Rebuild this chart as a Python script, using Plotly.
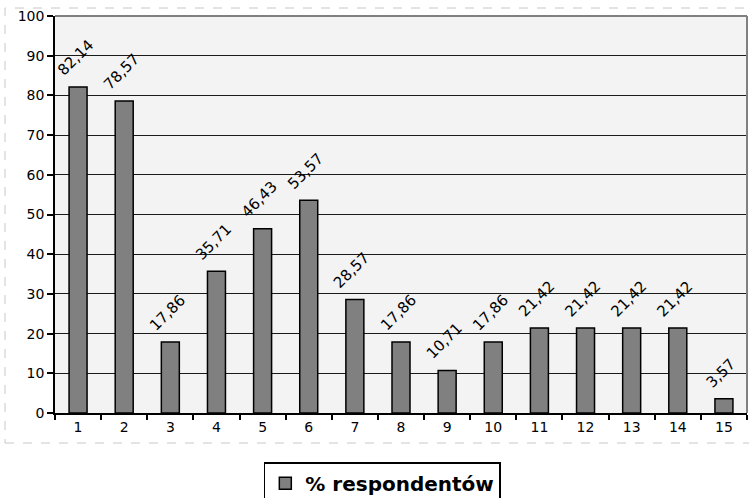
import plotly.graph_objects as go

categories = list(range(1, 16))
values = [82.14, 78.57, 17.86, 35.71, 46.43, 53.57, 28.57, 17.86, 10.71, 17.86,
          21.42, 21.42, 21.42, 21.42, 3.57]
labels = [f"{v:.2f}".replace(".", ",") for v in values]
series_name = "% respondentów"

W, H = 749, 498
L, R, T, B = 55, 2, 16, 85
FONT = "DejaVu Sans, Verdana, sans-serif"

fig = go.Figure()
fig.add_trace(go.Bar(
    x=categories, y=values, name=series_name,
    width=0.39,
    marker=dict(color="#808080", line=dict(color="black", width=1.5)),
    showlegend=True,
))

# slanted value labels above each bar
annotations = [
    dict(x=c, y=v, text=t, textangle=-45, showarrow=False,
         xanchor="center", yanchor="bottom", xshift=-3, yshift=5,
         font=dict(family=FONT, size=15, color="black"))
    for c, v, t in zip(categories, values, labels)
]

fig.update_layout(
    width=W, height=H,
    margin=dict(l=L, r=R, t=T, b=B, autoexpand=False),
    paper_bgcolor="white", plot_bgcolor="#f3f3f3",
    font=dict(family=FONT, size=14, color="black"),
    showlegend=True,
    annotations=annotations,
    legend=dict(
        orientation="h", x=0.473, xanchor="center", y=-0.124, yanchor="top",
        bordercolor="black", borderwidth=1.5, bgcolor="white",
        font=dict(family=FONT, size=20, color="black", weight="bold"),
        itemwidth=30, tracegroupgap=0,
    ),
    xaxis=dict(
        range=[0.5, 15.5], tickmode="array", tickvals=categories,
        ticktext=[str(c) for c in categories], ticks="",
        showline=True, linecolor="black", linewidth=1.5,
        showgrid=False, zeroline=False,
        tickfont=dict(size=14),
        minor=dict(tickmode="linear", tick0=0.5, dtick=1, ticks="outside",
                   ticklen=5, tickcolor="black", tickwidth=1.5, showgrid=False),
    ),
    yaxis=dict(
        range=[0, 100], dtick=10, ticks="outside", ticklen=6,
        tickcolor="black", tickwidth=1.5,
        showline=True, linecolor="black", linewidth=1.5,
        showgrid=True, gridcolor="#1a1a1a", gridwidth=1.2,
        zeroline=False, tickfont=dict(size=14),
    ),
    shapes=[
        # light outline on the top and right of the plotting area
        dict(type="line", xref="paper", yref="paper", x0=0, x1=1, y0=1, y1=1,
             line=dict(color="#808080", width=2)),
        dict(type="line", xref="paper", yref="paper", x0=1, x1=1, y0=0, y1=1,
             line=dict(color="#808080", width=2)),
        # dashed frame around the chart region
        dict(type="rect", xref="paper", yref="paper",
             x0=(5 - L) / (W - L - R), x1=(760 - L) / (W - L - R),
             y0=-(443 - (H - B)) / (H - T - B), y1=1 + (T - 8) / (H - T - B),
             line=dict(color="#c8c8c8", width=1, dash="dash"), layer="below"),
    ],
)

fig.write_html("out.html")
